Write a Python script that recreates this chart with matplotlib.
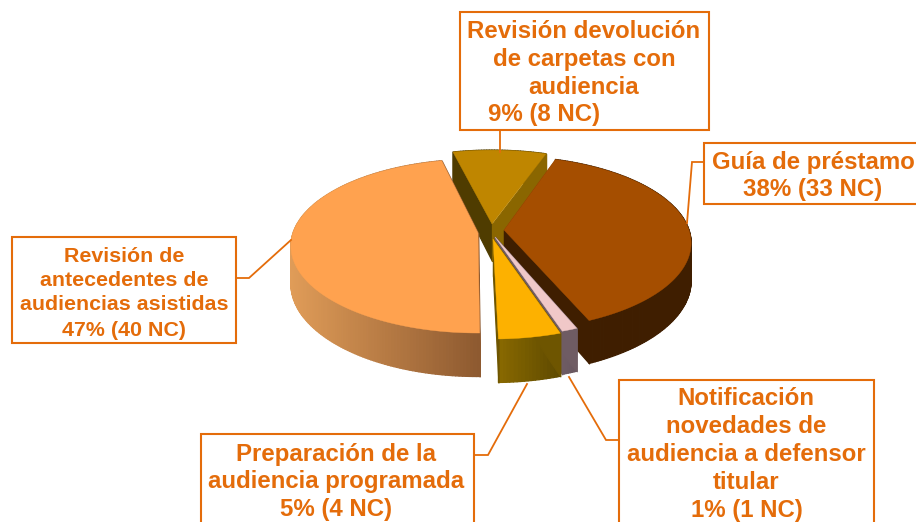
import numpy as np
import matplotlib
matplotlib.use("Agg")
import matplotlib.pyplot as plt
from matplotlib.collections import PolyCollection
from matplotlib.colors import to_rgb

categories = ["Guía de préstamo", "Notificación novedades", "Preparación", "Revisión antecedentes", "Revisión devolución"]
nc_counts = [33, 1, 4, 40, 8]

# slice styling, same order as categories
apex_px = [(504, 230), (495, 237), (493, 239), (478, 233), (492, 224)]
rotate_deg = [0, 1, 1, 2, 1]
top_colors = ["#A54E00", "#F0C8C8", "#FDB100", "#FFA24F", "#BF8600"]
side_from = ["#3F1E00", "#6F5C63", "#8A6A00", "#E09C58", "#4F3C00"]
side_to = ["#3F1E00", "#685760", "#5F4A00", "#8E5A30", "#4F3C00"]
wall_start = ["#3F1E00", "#6F5C63", "#6E5500", "#8E5A30", "#4F3C00"]
wall_end = ["#3F1E00", "#6F5C63", "#6E5500", "#8E5A30", "#8A6600"]
draw_order = [4, 0, 1, 2, 3]

START_DEG, RX, RY, PERSP, DEPTH = 18.5, 185, 85, 0.15, 37
ORANGE = "#E46C0A"

fig = plt.figure(figsize=(9.16, 5.22), dpi=100)
ax = fig.add_axes([0, 0, 1, 1])
ax.set_xlim(0, 916)
ax.set_ylim(522, 0)
ax.axis("off")

def project(theta, radius, apex, lower=False):
    X, Y = radius * np.sin(theta), -radius * np.cos(theta)
    s = 1 / (1 - PERSP * Y)
    px = apex[0] + RX * X * s
    py = apex[1] + RY * Y * s + (DEPTH * s if lower else 0)
    return px, py

def quad_fill(pts_top, pts_bot, colors, z):
    polys = [[pts_top[i], pts_top[i + 1], pts_bot[i + 1], pts_bot[i]] for i in range(len(pts_top) - 1)]
    ax.add_collection(PolyCollection(polys, facecolors=colors, edgecolors=colors, linewidths=0.9, zorder=z))

fractions = np.array(nc_counts) / sum(nc_counts)
edges = np.radians(START_DEG + 360 * np.concatenate([[0], np.cumsum(fractions)]))

for z, i in enumerate(draw_order):
    rot = np.radians(rotate_deg[i])
    t = np.linspace(edges[i] + rot, edges[i + 1] + rot, max(8, int(fractions[i] * 400)))
    apex = apex_px[i]
    base = z * 10
    apex_top = project(0.0, 0.0, apex)
    apex_bot = project(0.0, 0.0, apex, lower=True)
    top = np.column_stack(project(t, 1, apex))
    bot = np.column_stack(project(t, 1, apex, True))
    c0, c1 = np.array(to_rgb(side_from[i])), np.array(to_rgb(side_to[i]))
    xs = (top[:-1, 0] - top[:, 0].min()) / max(1, np.ptp(top[:, 0]))
    colors = [tuple(c0 + (c1 - c0) * v) for v in xs]
    quad_fill(list(map(tuple, top)), list(map(tuple, bot)), colors, base + 1)
    for angle, col in ((t[0], wall_start[i]), (t[-1], wall_end[i])):
        quad_fill([apex_top, project(angle, 1, apex)], [apex_bot, project(angle, 1, apex, True)], [col], base + 2)
    outline = np.vstack([[apex_top], top])
    ax.fill(outline[:, 0], outline[:, 1], color=top_colors[i], lw=0.3, zorder=base + 3)

# label boxes: (x0, y0, x1, y1)
boxes = [(460, 12, 709, 130), (704, 143, 925, 204), (12, 237, 236, 343), (201, 434, 474, 530), (619, 380, 874, 530)]
for x0, y0, x1, y1 in boxes:
    ax.fill([x0, x1, x1, x0], [y0, y0, y1, y1], fc="white", ec=ORANGE, lw=1.5, zorder=100, clip_on=True)

leaders = [
    ([500, 500], [130, 152]),
    ([704, 692, 687], [162, 162, 223]),
    ([236, 249, 291], [278, 278, 240]),
    ([474, 488, 527], [455, 455, 384]),
    ([619, 606, 569], [440, 440, 377]),
]
for lx, ly in leaders:
    ax.plot(lx, ly, color=ORANGE, lw=1.3, zorder=99, solid_joinstyle="miter")

# (text, center x, center y, font size)
label_lines = [
    ("Revisión devolución", 584, 31.5, 17.3),
    ("de carpetas con", 584, 59.5, 17.3),
    ("audiencia", 584, 87.5, 17.3),
    ("9% (8 NC)", 544, 114.5, 17.3),
    ("Guía de préstamo", 813, 162.5, 17.3),
    ("38% (33 NC)", 813, 189.5, 17.3),
    ("Revisión de", 124, 257, 15.4),
    ("antecedentes de", 124, 281, 15.4),
    ("audiencias asistidas", 124, 305, 15.4),
    ("47% (40 NC)", 124, 331, 15.4),
    ("Preparación de la", 336, 454.5, 17.3),
    ("audiencia programada", 336, 481.5, 17.3),
    ("5% (4 NC)", 336, 509.5, 17.3),
    ("Notificación", 746, 398.5, 17.3),
    ("novedades de", 746, 426.5, 17.3),
    ("audiencia a defensor", 746, 454.5, 17.3),
    ("titular", 746, 482.5, 17.3),
    ("1% (1 NC)", 747, 510.5, 17.3),
]
for s, x, y, size in label_lines:
    ax.text(x, y, s, ha="center", va="center", color=ORANGE, fontsize=size,
            fontweight="bold", family="Liberation Sans", zorder=101)

fig.savefig("out.png", dpi=100, facecolor="white")
